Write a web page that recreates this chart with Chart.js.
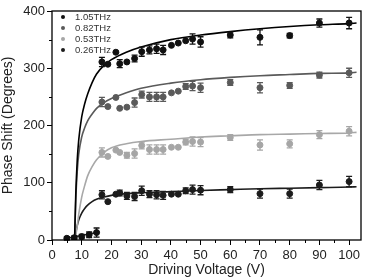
<!DOCTYPE html>
<html>
<head>
<meta charset="utf-8">
<script src="https://cdn.jsdelivr.net/npm/chart.js@4/dist/chart.umd.min.js"></script>
<style>
  html, body { margin: 0; padding: 0; background: #fff; }
  #wrap { width: 366px; height: 280px; }
</style>
</head>
<body>
<div id="wrap"><canvas id="myChart" width="366" height="280"></canvas></div>
<script>
const xTicks = [0, 10, 20, 30, 40, 50, 60, 70, 80, 90, 100];
const yTicks = [0, 100, 200, 300, 400];
const xMinor = [5, 15, 25, 35, 45, 55, 65, 75, 85, 95];
const yMinor = [50, 150, 250, 350];

const legendLabels = ['1.05THz', '0.82THz', '0.53THz', '0.26THz'];

// measured points (V, degrees) with error half-widths
const voltages = [16.8, 18.8, 21.5, 22.8, 25.2, 27.8, 30.2, 32.8, 35.2, 37.4, 40.2, 42.5, 45, 47.3, 50, 60, 70, 80, 90, 100];
const phase105 = [311, 307, 328, 308, 311, 317, 329, 332, 334, 332, 340, 344, 348, 351, 346, 358, 354, 357, 379, 379];
const phase082 = [241, 233, 249, 230, 232, 240, 254, 250, 250, 250, 257, 260, 268, 269, 266, 275, 266, 270, 288, 292];
const phase053 = [153, 146, 157, 153, 148, 151, 165, 158, 158, 158, 162, 162, 171, 172, 171, 179, 166, 168, 184, 190];
const phase026 = [79, 67, 80, 82, 77, 76, 86, 80, 79, 78, 80, 80, 86, 88, 87, 88, 81, 81, 96, 102];
const err105 = [8, 0, 0, 7, 0, 6, 8, 7, 8, 8, 0, 0, 0, 9, 9, 5, 13, 4, 7, 10];
const err082 = [8, 0, 0, 0, 0, 8, 6, 8, 8, 8, 0, 0, 5, 8, 8, 5, 9, 5, 5, 8];
const err053 = [8, 0, 0, 0, 5, 8, 6, 8, 8, 8, 0, 0, 5, 8, 8, 5, 9, 7, 7, 8];
const err026 = [7, 0, 0, 5, 6, 7, 8, 6, 7, 7, 0, 0, 5, 8, 8, 5, 8, 8, 8, 9];

// below threshold points (shared by all frequencies)
const lowV = [5, 7.5, 10, 12.5, 15];
const lowPhase = [3, 4, 6, 9, 13];
const lowErr = [3, 3, 4, 5, 8];
const lowFitV = [5, 16];
const lowFit = [3, 14];

// fitted curves
const fitV = [7.6, 8, 8.5, 9, 10, 11, 12, 13.5, 15, 17.5, 20, 25, 30, 40, 50, 60, 70, 80, 90, 100, 102.5];
const fit105 = [0, 80, 140, 175, 215, 238, 255, 275, 290, 305, 315, 328, 337, 350, 358, 364, 369, 373, 376, 378, 379];
const fit082 = [0, 70, 120, 150, 180, 196, 208, 220, 230, 240, 247, 257, 265, 274, 280, 284, 287, 289, 291, 292, 293];
const fit053 = [0, 8, 25, 45, 75, 95, 112, 128, 140, 153, 161, 168, 172, 176, 180, 182, 184, 185, 186, 187, 188];
const fit026 = [0, 12, 25, 35, 47, 55, 61, 67, 71, 75, 78, 81, 82.5, 84.5, 86.5, 88, 89.5, 90.5, 91.5, 92.5, 93];

const colors = ['#111111', '#5a5a5a', '#a6a6a6', '#1c1c1c'];
const fontFamily = 'Arial, "Liberation Sans", sans-serif';

const pts = (xs, ys) => xs.map((x, i) => ({ x, y: ys[i] }));

function pointSet(label, ys, errs, color) {
  return {
    label, data: pts(voltages, ys), errors: errs,
    backgroundColor: color, borderColor: color,
    pointRadius: 3, pointHoverRadius: 3, showLine: false,
  };
}
function curveSet(ys, color) {
  return {
    data: pts(fitV, ys), borderColor: color, borderWidth: 1.6,
    pointRadius: 0, showLine: true, cubicInterpolationMode: 'monotone', fill: false,
  };
}

const datasets = [
  pointSet(legendLabels[0], phase105, err105, colors[0]),
  pointSet(legendLabels[1], phase082, err082, colors[1]),
  pointSet(legendLabels[2], phase053, err053, colors[2]),
  pointSet(legendLabels[3], phase026, err026, colors[3]),
  { data: pts(lowV, lowPhase), errors: lowErr, backgroundColor: '#111', borderColor: '#111',
    pointRadius: 3, showLine: false },
  { data: pts(lowFitV, lowFit), borderColor: '#222', borderWidth: 1.4, pointRadius: 0, showLine: true },
  curveSet(fit105, '#000000'),
  curveSet(fit082, '#5a5a5a'),
  curveSet(fit053, '#a8a8a8'),
  curveSet(fit026, '#1c1c1c'),
];

const extras = {
  id: 'extras',
  afterDatasetsDraw(chart) {
    const { ctx, chartArea: a, scales: { x, y } } = chart;
    ctx.save();
    // error bars
    chart.data.datasets.forEach((ds, i) => {
      if (!ds.errors) return;
      ctx.strokeStyle = ds.borderColor;
      ctx.lineWidth = 1.3;
      ds.data.forEach((p, j) => {
        const e = ds.errors[j];
        if (!e) return;
        const px = x.getPixelForValue(p.x);
        const top = y.getPixelForValue(p.y + e);
        const bot = y.getPixelForValue(p.y - e);
        ctx.beginPath();
        ctx.moveTo(px, top); ctx.lineTo(px, bot);
        ctx.moveTo(px - 3, top); ctx.lineTo(px + 3, top);
        ctx.moveTo(px - 3, bot); ctx.lineTo(px + 3, bot);
        ctx.stroke();
      });
    });
    // frame
    ctx.strokeStyle = '#000';
    ctx.lineWidth = 1.3;
    ctx.strokeRect(a.left, a.top, a.right - a.left, a.bottom - a.top);
    // minor ticks
    ctx.lineWidth = 1;
    ctx.beginPath();
    xMinor.forEach(v => {
      const px = Math.round(x.getPixelForValue(v)) + 0.5;
      ctx.moveTo(px, a.bottom); ctx.lineTo(px, a.bottom + 3);
    });
    yMinor.forEach(v => {
      const py = Math.round(y.getPixelForValue(v)) + 0.5;
      ctx.moveTo(a.left, py); ctx.lineTo(a.left - 3, py);
    });
    ctx.stroke();
    // legend inside plot
    ctx.font = '9.5px ' + fontFamily;
    ctx.textBaseline = 'middle';
    legendLabels.forEach((lab, i) => {
      const ly = a.top + 6 + i * 11;
      ctx.fillStyle = colors[i];
      ctx.beginPath();
      ctx.arc(a.left + 11, ly, 2, 0, Math.PI * 2);
      ctx.fill();
      ctx.fillStyle = '#333';
      ctx.fillText(lab, a.left + 23, ly);
    });
    ctx.restore();
  },
};

new Chart(document.getElementById('myChart').getContext('2d'), {
  type: 'scatter',
  data: { datasets },
  options: {
    responsive: false,
    animation: false,
    layout: { padding: { top: 11, right: 4, left: 0, bottom: 0 } },
    plugins: { legend: { display: false }, tooltip: { enabled: false } },
    scales: {
      x: {
        type: 'linear', min: 0, max: 104,
        afterBuildTicks: s => { s.ticks = xTicks.map(v => ({ value: v })); },
        afterFit: s => { s.height = 40; },
        ticks: { color: '#222', font: { family: fontFamily, size: 13 }, padding: 3, maxRotation: 0 },
        grid: { drawOnChartArea: false, color: '#000', tickLength: 5, lineWidth: 1 },
        border: { display: false },
        title: { display: true, text: 'Driving Voltage (V)', color: '#222',
          font: { family: fontFamily, size: 14 }, padding: { top: 0, bottom: 1 } },
      },
      y: {
        type: 'linear', min: 0, max: 400,
        afterBuildTicks: s => { s.ticks = yTicks.map(v => ({ value: v })); },
        afterFit: s => { s.width = 52; },
        ticks: { color: '#222', font: { family: fontFamily, size: 13 }, padding: 2 },
        grid: { drawOnChartArea: false, color: '#000', tickLength: 5, lineWidth: 1 },
        border: { display: false },
        title: { display: true, text: 'Phase Shift (Degrees)', color: '#222',
          font: { family: fontFamily, size: 14 }, padding: { top: 0, bottom: 0 } },
      },
    },
  },
  plugins: [extras],
});
</script>
</body>
</html>
